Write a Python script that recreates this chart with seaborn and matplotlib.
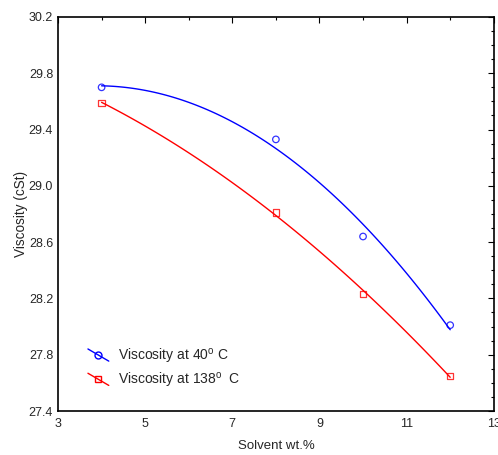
import numpy as np
import pandas as pd
import seaborn as sns
import matplotlib
matplotlib.use("Agg")
import matplotlib.pyplot as plt
from matplotlib.lines import Line2D
from matplotlib.ticker import MultipleLocator
from matplotlib.legend_handler import HandlerLine2D

solvent = [4, 8, 10, 12]
visc_40 = [29.70, 29.33, 28.64, 28.01]
visc_138 = [29.59, 28.81, 28.23, 27.65]
labels = ["Viscosity at 40$^{\\mathrm{o}}$ C", "Viscosity at 138$^{\\mathrm{o}}$  C"]
x_ticks = [3, 5, 7, 9, 11, 13]
y_ticks = [27.4, 27.8, 28.2, 28.6, 29.0, 29.4, 29.8, 30.2]

sns.set_style("white")
plt.rcParams['font.family'] = ['Liberation Sans', 'DejaVu Sans']
plt.rcParams['mathtext.fontset'] = 'custom'
plt.rcParams['mathtext.rm'] = 'Liberation Sans'


class SlantHandler(HandlerLine2D):
    def create_artists(self, legend, orig_handle, xdescent, ydescent, width, height, fontsize, trans):
        x0, x1 = -xdescent, -xdescent + width
        y0, y1 = -ydescent + height * 1.15, -ydescent - height * 0.1
        line = Line2D([x0, x1], [y0, y1])
        self.update_prop(line, orig_handle, legend)
        line.set_marker("None")
        line.set_transform(trans)
        mk = Line2D([(x0 + x1) / 2], [(y0 + y1) / 2])
        self.update_prop(mk, orig_handle, legend)
        mk.set_linestyle("None")
        mk.set_transform(trans)
        return [line, mk]


df40 = pd.DataFrame({"x": solvent, "y": visc_40})
df138 = pd.DataFrame({"x": solvent, "y": visc_138})

fig = plt.figure(figsize=(4.98, 4.55), dpi=100)
ax = fig.add_axes([0.1165, 0.0967, 0.875, 0.866])

sns.regplot(data=df40, x="x", y="y", order=2, ci=None, ax=ax, color="blue",
            marker="o", line_kws={"lw": 1.0},
            scatter_kws={"facecolors": "none", "s": 22, "linewidths": 0.9})
sns.regplot(data=df138, x="x", y="y", order=2, ci=None, ax=ax, color="red",
            marker="s", line_kws={"lw": 1.0},
            scatter_kws={"facecolors": "none", "s": 22, "linewidths": 0.9})

ax.set_xlim(3, 13)
ax.set_ylim(27.4, 30.2)
ax.set_xticks(x_ticks)
ax.set_yticks(y_ticks)
ax.set_xticklabels([str(t) for t in x_ticks])
ax.set_yticklabels([f"{t:.1f}" for t in y_ticks])
ax.xaxis.set_minor_locator(MultipleLocator(1))
ax.yaxis.set_minor_locator(MultipleLocator(0.1))
ax.tick_params(which="both", direction="in", top=True, right=True, labelsize=9, width=0.8, color="black")
ax.tick_params(which="major", length=4)
ax.tick_params(which="minor", length=2.5)
ax.tick_params(axis="x", which="major", pad=5)
ax.tick_params(axis="y", which="major", pad=3.5)
for s in ax.spines.values():
    s.set_color("black")
    s.set_linewidth(1.2)

ax.set_xlabel("Solvent wt.%", fontsize=9.5)
ax.set_ylabel("Viscosity (cSt)", fontsize=9.8)
ax.xaxis.set_label_coords(0.5, -0.074)
ax.yaxis.set_label_coords(-0.068, 0.5)

handles = [
    Line2D([], [], color="blue", marker="o", markerfacecolor="none", markersize=5, lw=1.0),
    Line2D([], [], color="red", marker="s", markerfacecolor="none", markersize=5, lw=1.0),
]
ax.legend(handles, labels, loc="lower left", bbox_to_anchor=(0.04, 0.022), frameon=False,
          fontsize=10, handlelength=1.5, handletextpad=0.65, labelspacing=0.38,
          handler_map={Line2D: SlantHandler()})

fig.savefig("out.png", dpi=100)
